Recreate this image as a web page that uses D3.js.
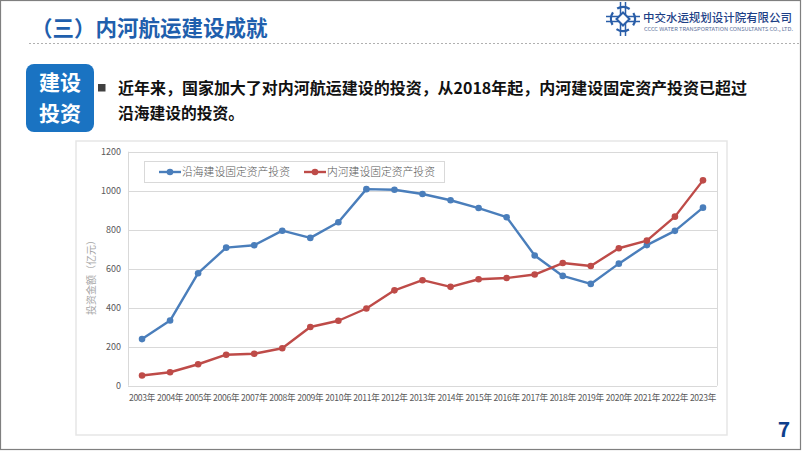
<!DOCTYPE html>
<html><head><meta charset="utf-8">
<script src="https://cdn.jsdelivr.net/npm/d3@7/dist/d3.min.js"></script>
<style>
html,body{margin:0;padding:0;background:#fff;}
svg{display:block;}
text{font-family:"Noto Sans CJK SC","Noto Sans",sans-serif;}
</style></head>
<body>
<svg id="c" width="802" height="451"></svg>
<script>
const years = ["2003年","2004年","2005年","2006年","2007年","2008年","2009年","2010年","2011年","2012年","2013年","2014年","2015年","2016年","2017年","2018年","2019年","2020年","2021年","2022年","2023年"];
const coastal = [239,334,577,708,720,795,758,838,1008,1005,983,951,911,864,668,563,522,626,721,794,913];
const inland  = [52,69,110,159,164,192,301,333,396,489,541,507,546,552,570,629,614,705,744,867,1053];
const yTicks = [0,200,400,600,800,1000,1200];
const seriesNames = ["沿海建设固定资产投资","内河建设固定资产投资"];
const colors = ["#4a7ebb","#be4b48"];

const svg = d3.select("#c");
// slide border
svg.append("rect").attr("x",0.5).attr("y",0.5).attr("width",800).attr("height",449)
  .attr("fill","#fff").attr("stroke","#7f7f7f").attr("stroke-width",1.2);

// title
svg.append("text").attr("x",31).attr("y",36).attr("font-size",21.5).attr("font-weight","bold")
  .attr("fill","#1f5fad").text("（三）内河航运建设成就");
svg.append("line").attr("x1",29).attr("x2",800).attr("y1",43.5).attr("y2",43.5)
  .attr("stroke","#b0b0b0").attr("stroke-dasharray","2,2").attr("stroke-width",1);

// logo
const lg = svg.append("g").attr("transform","translate(623,19)");
lg.append("circle").attr("r",12).attr("fill","none").attr("stroke","#2a5ea8").attr("stroke-width",2.2)
  .attr("stroke-dasharray","13,5.8").attr("transform","rotate(-30)");
lg.append("path").attr("d","M-2.5,-17 L-2.5,17 M2.5,-17 L2.5,17 M-17,-2.5 L17,-2.5 M-17,2.5 L17,2.5").attr("stroke","#2a5ea8").attr("stroke-width",1.5);
lg.append("path").attr("d","M0,-6.5 L6.5,0 L0,6.5 L-6.5,0 Z").attr("fill","#fff").attr("stroke","#2a5ea8").attr("stroke-width",2);
svg.append("text").attr("x",643).attr("y",21.5).attr("font-size",11.5).attr("fill","#1d3f86")
  .attr("font-weight","500").attr("textLength",149).attr("lengthAdjust","spacingAndGlyphs")
  .text("中交水运规划设计院有限公司");
svg.append("text").attr("x",644).attr("y",31).attr("font-size",5.2).attr("fill","#5a6f9a")
  .attr("textLength",149).attr("lengthAdjust","spacingAndGlyphs")
  .text("CCCC WATER TRANSPORTATION CONSULTANTS CO., LTD.");

// blue box
svg.append("rect").attr("x",26).attr("y",64).attr("width",68).attr("height",68).attr("rx",8)
  .attr("fill","#1a73c2");
svg.append("text").attr("x",60).attr("y",90).attr("text-anchor","middle").attr("font-size",21)
  .attr("font-weight","bold").attr("fill","#fff").text("建设");
svg.append("text").attr("x",60).attr("y",121).attr("text-anchor","middle").attr("font-size",21)
  .attr("font-weight","bold").attr("fill","#fff").text("投资");
svg.append("rect").attr("x",98).attr("y",84).attr("width",7.5).attr("height",7.5).attr("fill","#404040");
svg.append("text").attr("x",118).attr("y",94).attr("font-size",15.5).attr("font-weight","bold").attr("fill","#111")
  .attr("textLength",629).attr("lengthAdjust","spacingAndGlyphs")
  .text("近年来，国家加大了对内河航运建设的投资，从2018年起，内河建设固定资产投资已超过");
svg.append("text").attr("x",118).attr("y",119).attr("font-size",15.5).attr("font-weight","bold").attr("fill","#111")
  .attr("textLength",126).attr("lengthAdjust","spacingAndGlyphs")
  .text("沿海建设的投资。");

// page number
svg.append("text").attr("x",784).attr("y",437).attr("text-anchor","middle").attr("font-size",21)
  .attr("font-weight","bold").attr("fill","#0f3f8c").attr("font-family","Liberation Sans, Arial").text("7");

// chart panel
svg.append("rect").attr("x",76).attr("y",141).attr("width",651).attr("height",294)
  .attr("fill","#fff").attr("stroke","#e6e6e6").attr("stroke-width",1.5);

const L=128, R=717, T=151.7, B=385.7;
const x = d3.scaleBand().domain(years).range([L,R]);
const y = d3.scaleLinear().domain([0,1200]).range([B,T]);
const cx = d => x(d)+x.bandwidth()/2;

const g = svg.append("g");
// gridlines
g.selectAll(".grid").data(yTicks).join("line")
  .attr("x1",L).attr("x2",R).attr("y1",d=>Math.round(y(d))+0.5).attr("y2",d=>Math.round(y(d))+0.5)
  .attr("stroke","#d9d9d9").attr("stroke-width",1);
g.append("line").attr("x1",R+0.5).attr("x2",R+0.5).attr("y1",T).attr("y2",B).attr("stroke","#d9d9d9");
g.append("line").attr("x1",L+0.5).attr("x2",L+0.5).attr("y1",T).attr("y2",B).attr("stroke","#d9d9d9");

// y axis
const ya = g.append("g").attr("transform",`translate(${L},0)`)
  .call(d3.axisLeft(y).tickValues(yTicks).tickFormat(d3.format("d")).tickSize(0).tickPadding(7));
ya.select(".domain").remove();
ya.selectAll("text").attr("font-size",9).attr("fill","#595959").attr("font-family","Liberation Sans, Arial");

// x axis
const xa = g.append("g").attr("transform",`translate(0,${B})`)
  .call(d3.axisBottom(x).tickSize(0).tickPadding(9));
xa.select(".domain").remove();
xa.selectAll("text").attr("font-size",8.6).attr("fill","#595959").attr("letter-spacing","-0.3");

// y title
svg.append("text").attr("transform","translate(95,275) rotate(-90)").attr("text-anchor","middle")
  .attr("font-size",10).attr("fill","#a6a6a6").text("投资金额（亿元）");

// lines
const data = [coastal, inland];
const line = d3.line().x((d,i)=>cx(years[i])).y(d=>y(d));
data.forEach((s,k)=>{
  g.append("path").datum(s).attr("d",line).attr("fill","none").attr("stroke",colors[k])
    .attr("stroke-width",2.4).attr("stroke-linejoin","round");
  g.selectAll(".m"+k).data(s).join("circle").attr("cx",(d,i)=>cx(years[i])).attr("cy",d=>y(d))
    .attr("r",3.3).attr("fill",colors[k]);
});

// legend
const leg = svg.append("g");
leg.append("rect").attr("x",144.5).attr("y",161.5).attr("width",300).attr("height",21)
  .attr("fill","#fff").attr("stroke","#d9d9d9");
const lx=[159,304];
seriesNames.forEach((n,k)=>{
  leg.append("line").attr("x1",lx[k]).attr("x2",lx[k]+22).attr("y1",172).attr("y2",172)
    .attr("stroke",colors[k]).attr("stroke-width",2.4);
  leg.append("circle").attr("cx",lx[k]+11).attr("cy",172).attr("r",3.3).attr("fill",colors[k]);
  leg.append("text").attr("x",lx[k]+23).attr("y",176).attr("font-size",10.8).attr("fill","#595959")
    .attr("font-weight","300").text(n);
});
</script>
</body></html>
